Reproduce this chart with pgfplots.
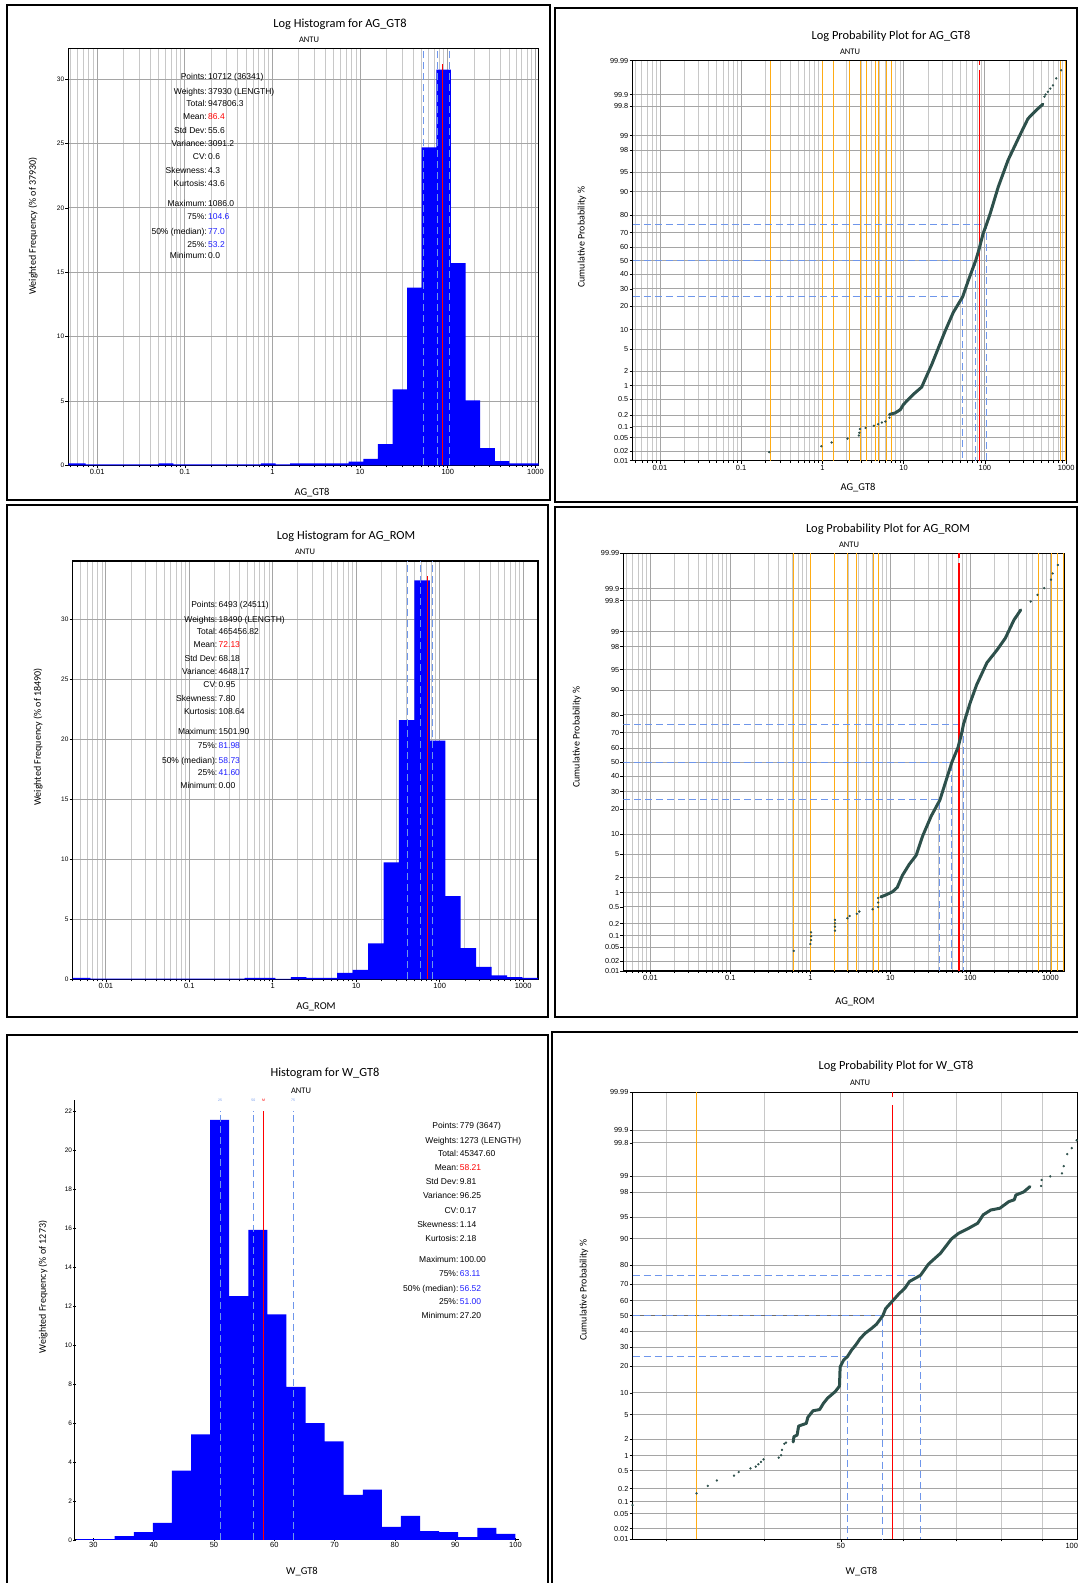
\documentclass[border=0pt]{standalone}
\usepackage{pgfplots}
\pgfplotsset{compat=1.18}
\usepackage{fontspec}
\setmainfont{Liberation Sans}
\newfontfamily\carl{Carlito}

\definecolor{barblue}{RGB}{0,0,255}
\definecolor{qline}{RGB}{110,150,235}
\definecolor{qtext}{RGB}{30,30,255}
\definecolor{meanred}{RGB}{255,0,0}
\definecolor{ptcol}{RGB}{45,80,75}
\definecolor{orng}{RGB}{255,172,20}
\definecolor{gmaj}{RGB}{165,165,165}
\definecolor{gmin}{RGB}{200,200,200}

% picture units are the reference's pixels (y measured from the top)
\newcommand{\stat}{\fontsize{8.5}{10}\selectfont}
\newcommand{\st}[4]{%
  \node[anchor=mid east,font=\stat,inner sep=0pt] at (#1,{1583-#2}) {#3};
  \node[anchor=mid west,font=\stat,inner sep=0pt] at ({#1+1},{1583-#2}) {#4};}
\newcommand{\ttl}[3]{\node[font=\carl\fontsize{12.4}{14}\selectfont] at (#1,{1583-#2}) {#3};}
\newcommand{\antu}[2]{\node[font=\carl\fontsize{8.5}{10}\selectfont] at (#1,{1583-#2}) {ANTU};}
\newcommand{\xl}[3]{\node[font=\carl\fontsize{10.5}{12}\selectfont] at (#1,{1583-#2}) {#3};}
\newcommand{\yl}[3]{\node[font=\carl\fontsize{10}{12}\selectfont,rotate=90] at (#1,{1583-#2}) {#3};}

\newcommand{\logminors}{0.004,0.005,0.006,0.007,0.008,0.009,0.02,0.03,0.04,0.05,0.06,0.07,0.08,0.09,0.2,0.3,0.4,0.5,0.6,0.7,0.8,0.9,2,3,4,5,6,7,8,9,20,30,40,50,60,70,80,90,200,300,400,500,600,700,800,900}

\pgfplotsset{
  mypanel/.style={scale only axis, anchor=south west,
    axis line style={black,line width=1.2pt},
    /pgf/number format/assume math mode=true,
    tick pos=left, tick align=outside,
    major tick length=3pt, minor tick length=2pt,
    tick style={black,line width=0.6pt},
    xticklabel style={font=\fontsize{7.5}{8}\selectfont, inner sep=1pt},
    yticklabel style={font=\fontsize{6.5}{7}\selectfont, inner sep=1pt}},
  mylogx/.style={
    xtick={0.01,0.1,1,10,100,1000},
    xticklabels={0.01,0.1,1,10,100,1000},
    minor xtick/.expand once={\logminors},
    xmajorgrids, xminorgrids,
    major x grid style={gmaj,line width=0.8pt},
    minor x grid style={gmin,line width=0.8pt}},
  myprob/.style={ymin=-3.719, ymax=3.719,
    ytick={-3.719,-3.540,-3.291,-3.090,-2.878,-2.576,-2.326,-2.054,-1.645,-1.282,-0.842,-0.524,-0.253,0,0.253,0.524,0.842,1.282,1.645,2.054,2.326,2.878,3.090,3.719},
    yticklabels={0.01,0.02,0.05,0.1,0.2,0.5,1,2,5,10,20,30,40,50,60,70,80,90,95,98,99,99.8,99.9,99.99},
    ymajorgrids, major y grid style={gmaj,line width=0.8pt},
    yticklabel style={font=\fontsize{7.3}{8}\selectfont}},
  myhist/.style={ymin=0, ymajorgrids, major y grid style={gmaj,line width=0.8pt}},
  qdash/.style={qline,line width=1pt,dash pattern=on 7pt off 4pt},
  meanl/.style={meanred,line width=1.2pt},
  orl/.style={orng,line width=1pt},
  ptdense/.style={draw=ptcol,line width=3pt,line join=round,line cap=round},
  ptsparse/.style={draw=ptcol,fill=ptcol,only marks,mark=*,mark size=0.95pt},
}

\begin{document}
\begin{tikzpicture}[x=1pt,y=1pt]
\useasboundingbox (0,0) rectangle (1078,1583);

% panel frames
\draw[line width=2pt] (7,{1583-5}) rectangle (550,{1583-500});
\draw[line width=2pt] (555,{1583-8}) rectangle (1077,{1583-502});
\draw[line width=2pt] (7,{1583-505}) rectangle (548,{1583-1017});
\draw[line width=2pt] (555,{1583-507}) rectangle (1077,{1583-1017});
\draw[line width=2pt] (7,{1583-1035}) rectangle (548,{1583-1595});
\draw[line width=2pt] (552,{1583-1032}) rectangle (1090,{1583-1595});

% ---------- Log histogram AG_GT8
\begin{axis}[xmode=log, mypanel, mylogx, myhist, at={(68.4pt,1117.7pt)}, width=470.2pt, height=417pt,
  xmin=0.0047, xmax=1086, ymax=32.4, ytick={0,5,...,30}]
\addplot[ybar interval=0.92, fill=barblue, draw=none] coordinates {
 (0.0047,0.15) (0.007399,0.08) (0.01086,0.08) (0.01594,0.08) (0.0234,0.08)
 (0.03434,0.08) (0.05041,0.15) (0.07399,0.08) (0.1086,0.08) (0.1594,0.08)
 (0.234,0.08) (0.3434,0.08) (0.5041,0.08) (0.7399,0.15) (1.086,0.08)
 (1.594,0.15) (2.34,0.15) (3.434,0.15) (5.041,0.15) (7.399,0.28) (10.86,0.49)
 (15.94,1.65) (23.4,5.9) (34.34,13.8) (50.41,24.7) (73.99,30.75) (108.6,15.7)
 (159.5,5.04) (234,1.34) (343.4,0.33) (504.1,0.15) (739.2,0.15) (1086,0)};
\addplot[qdash] coordinates {(53.2,0) (53.2,32.4)};
\addplot[qdash] coordinates {(77.0,0) (77.0,32.4)};
\addplot[qdash] coordinates {(104.6,0) (104.6,32.4)};
\addplot[meanl] coordinates {(86.4,0) (86.4,31.2)};
\end{axis}

% ---------- Log probability AG_GT8
\begin{axis}[xmode=log, mypanel, mylogx, myprob, at={(632.5pt,1122.3pt)}, width=434.3pt, height=400pt,
  xmin=0.0046, xmax=1020]
\addplot[orl] coordinates {(0.233,-3.719) (0.233,3.719)};
\addplot[orl] coordinates {(1.0,-3.719) (1.0,3.719)};
\addplot[orl] coordinates {(1.36,-3.719) (1.36,3.719)};
\addplot[orl] coordinates {(2.16,-3.719) (2.16,3.719)};
\addplot[orl] coordinates {(2.94,-3.719) (2.94,3.719)};
\addplot[orl] coordinates {(3.49,-3.719) (3.49,3.719)};
\addplot[orl] coordinates {(4.5,-3.719) (4.5,3.719)};
\addplot[orl] coordinates {(4.94,-3.719) (4.94,3.719)};
\addplot[orl] coordinates {(6.08,-3.719) (6.08,3.719)};
\addplot[orl] coordinates {(7.0,-3.719) (7.0,3.719)};
\addplot[orl] coordinates {(845,-3.719) (845,3.719)};
\addplot[orl] coordinates {(977,-3.719) (977,3.719)};
\addplot[qdash] coordinates {(0.0046,0.674) (104.6,0.674) (104.6,-3.719)};
\addplot[qdash] coordinates {(0.0046,0) (77,0) (77,-3.719)};
\addplot[qdash] coordinates {(0.0046,-0.674) (53.2,-0.674) (53.2,-3.719)};
\addplot[meanl] coordinates {(86.4,-3.719) (86.4,3.55)};
\addplot[meanl] coordinates {(86.4,3.64) (86.4,3.719)};
\addplot[ptsparse] coordinates {
 (0.222,-3.56) (0.97,-3.45) (1.3,-3.38) (2.04,-3.31) (2.81,-3.25) (2.85,-3.20)
 (2.9,-3.13) (3.4,-3.11) (4.3,-3.07) (4.85,-3.04) (5.4,-3.01) (5.96,-2.99) (6.7,-2.92)
 (541,3.05) (560,3.09) (597,3.14) (640,3.2) (688,3.26) (755,3.39) (869,3.54)};
\addplot[ptdense] coordinates {
 (6.7,-2.86) (7.9,-2.83) (9.1,-2.77) (10,-2.67) (13.3,-2.48) (16.7,-2.35)
 (17.6,-2.27) (22.2,-1.93) (26.8,-1.62) (32.4,-1.31) (40.9,-0.96) (53.2,-0.674)
 (62.5,-0.37) (77,0) (84,0.19) (95,0.50) (104.6,0.674) (116,0.87) (146,1.37)
 (193,1.87) (269,2.33) (339,2.64) (430,2.80) (518,2.91)};
\end{axis}

% ---------- Log histogram AG_ROM
\begin{axis}[xmode=log, mypanel, mylogx, myhist, at={(72.6pt,603.7pt)}, width=465.3pt, height=418.3pt,
  xmin=0.004, xmax=1501.9, ymax=34.86, ytick={0,5,...,30}]
\addplot[ybar interval=0.92, fill=barblue, draw=none] coordinates {
 (0.004,0.11) (0.00651,0.06) (0.00996,0.06) (0.01525,0.06) (0.02334,0.06)
 (0.0357,0.06) (0.0547,0.06) (0.0837,0.06) (0.1282,0.06) (0.1962,0.06)
 (0.3004,0.06) (0.460,0.11) (0.704,0.11) (1.078,0.04) (1.650,0.19) (2.525,0.11)
 (3.87,0.11) (5.92,0.53) (9.06,0.78) (13.87,3.0) (21.24,9.75) (32.5,21.6)
 (49.8,33.25) (76.2,19.9) (116.7,6.94) (178.6,2.6) (273.4,1.03) (418.6,0.33)
 (640.8,0.19) (981.0,0.11) (1501.9,0)};
\addplot[qdash] coordinates {(41.6,0) (41.6,34.86)};
\addplot[qdash] coordinates {(58.73,0) (58.73,34.86)};
\addplot[qdash] coordinates {(81.98,0) (81.98,34.86)};
\addplot[meanl] coordinates {(72.13,0) (72.13,33.6)};
\end{axis}

% ---------- Log probability AG_ROM
\begin{axis}[xmode=log, mypanel, mylogx, myprob, at={(623.4pt,612pt)}, width=441.1pt, height=417.7pt,
  xmin=0.0046, xmax=1501.9]
\addplot[orl] coordinates {(0.62,-3.719) (0.62,3.719)};
\addplot[orl] coordinates {(1.0,-3.719) (1.0,3.719)};
\addplot[orl] coordinates {(2.03,-3.719) (2.03,3.719)};
\addplot[orl] coordinates {(2.94,-3.719) (2.94,3.719)};
\addplot[orl] coordinates {(3.82,-3.719) (3.82,3.719)};
\addplot[orl] coordinates {(6.08,-3.719) (6.08,3.719)};
\addplot[orl] coordinates {(7.04,-3.719) (7.04,3.719)};
\addplot[orl] coordinates {(712,-3.719) (712,3.719)};
\addplot[orl] coordinates {(1020,-3.719) (1020,3.719)};
\addplot[orl] coordinates {(1215,-3.719) (1215,3.719)};
\addplot[orl] coordinates {(1458,-3.719) (1458,3.719)};
\addplot[qdash] coordinates {(0.0046,0.674) (81.98,0.674) (81.98,-3.719)};
\addplot[qdash] coordinates {(0.0046,0) (58.73,0) (58.73,-3.719)};
\addplot[qdash] coordinates {(0.0046,-0.674) (41.6,-0.674) (41.6,-3.719)};
\addplot[meanl] coordinates {(72.13,-3.719) (72.13,3.55)};
\addplot[meanl] coordinates {(72.13,3.64) (72.13,3.719)};
\addplot[ptsparse] coordinates {
 (0.62,-3.36) (1.0,-3.24) (1.02,-3.17) (1.02,-3.10) (1.02,-3.03) (2.03,-3.00)
 (2.03,-2.93) (2.03,-2.87) (2.03,-2.81) (2.9,-2.78) (3.1,-2.74) (3.8,-2.70)
 (4.1,-2.66) (6.0,-2.62) (7.04,-2.58) (7.04,-2.50) (7.04,-2.42)
 (568,2.86) (690,2.98) (838,3.10) (1018,3.25) (1069,3.36) (1240,3.51)};
\addplot[ptdense] coordinates {
 (7.6,-2.40) (8.6,-2.37) (10.6,-2.31) (12.2,-2.23) (14.1,-2.02) (17.2,-1.82)
 (21,-1.66) (25.4,-1.31) (32.4,-0.96) (41.6,-0.674) (58.73,0) (70,0.26) (78,0.52)
 (81.98,0.674) (99,1.05) (120,1.38) (161,1.77) (216,2.00) (274,2.21) (350,2.53)
 (426,2.71)};
\end{axis}

% ---------- Histogram W_GT8
\begin{axis}[mypanel, at={(74.7pt,43pt)}, width=444.4pt, height=440pt,
  axis lines=left, axis line style={-,black,line width=1pt},
  xmin=26.9, xmax=100.6, ymin=0, ymax=22.56, clip=false,
  xtick={30,40,...,100}, ytick={0,2,...,22}]
\addplot[ybar interval=0.94, fill=barblue, draw=none] coordinates {
 (27.2,0.05) (30.37,0.05) (33.53,0.2) (36.70,0.41) (39.86,0.88) (43.03,3.56)
 (46.19,5.42) (49.36,21.54) (52.52,12.5) (55.69,15.9) (58.85,11.57) (62.02,7.85)
 (65.18,5.99) (68.35,5.06) (71.51,2.32) (74.68,2.58) (77.84,0.67) (81.01,1.24)
 (84.17,0.46) (87.34,0.41) (90.50,0.15) (93.67,0.62) (96.83,0.31) (100,0)};
\addplot[qdash] coordinates {(51.0,0) (51.0,22)};
\addplot[qdash] coordinates {(56.52,0) (56.52,22)};
\addplot[qdash] coordinates {(63.11,0) (63.11,22)};
\addplot[meanl] coordinates {(58.21,0) (58.21,22)};
\node[font=\fontsize{3.5}{4}\selectfont,text=qline] at (axis cs:51.0,22.55) {25};
\node[font=\fontsize{3.5}{4}\selectfont,text=qline] at (axis cs:56.52,22.55) {50};
\node[font=\fontsize{3.5}{4}\selectfont,text=meanred] at (axis cs:58.21,22.55) {M};
\node[font=\fontsize{3.5}{4}\selectfont,text=qline] at (axis cs:63.11,22.55) {75};
\end{axis}

% ---------- Log probability W_GT8
\begin{axis}[xmode=log, mypanel, myprob, at={(632.5pt,43.7pt)}, width=445.5pt, height=447pt,
  xmin=27.2, xmax=100, xtick={50,100}, xticklabels={50,{\makebox[0pt][r]{100}}},
  minor xtick={30,40,60,70,80,90}, xmajorgrids, xminorgrids,
  major x grid style={gmaj,line width=0.8pt}, minor x grid style={gmin,line width=0.8pt}]
\addplot[gray!85!black,line width=1.2pt] coordinates {(27.2,0) (100,0)};
\addplot[orl] coordinates {(32.8,-3.719) (32.8,3.719)};
\addplot[qdash] coordinates {(27.2,0.674) (63.11,0.674) (63.11,-3.719)};
\addplot[qdash] coordinates {(27.2,0) (56.52,0) (56.52,-3.719)};
\addplot[qdash] coordinates {(27.2,-0.674) (51.0,-0.674) (51.0,-3.719)};
\addplot[meanl] coordinates {(58.21,-3.719) (58.21,3.50)};
\addplot[meanl] coordinates {(58.21,3.64) (58.21,3.719)};
\addplot[ptsparse] coordinates {
 (27.2,-3.15) (32.8,-2.955) (33.9,-2.83) (34.8,-2.74) (36.6,-2.66) (37.1,-2.60)
 (38.4,-2.54) (39.0,-2.51) (39.3,-2.47) (39.6,-2.43) (39.9,-2.39) (41.7,-2.36)
 (42.0,-2.32) (42.1,-2.23) (42.4,-2.13) (42.6,-2.11)
 (89.8,2.16) (89.9,2.26) (92.2,2.32) (95.4,2.37) (95.9,2.49) (96.9,2.69)
 (98.2,2.79) (99.6,2.92)};
\addplot[ptdense] coordinates {
 (43.5,-2.10) (43.6,-2.01) (44.0,-1.985) (44.2,-1.835) (45.2,-1.79) (45.4,-1.69)
 (46.1,-1.58) (47.0,-1.56) (47.5,-1.46) (48.1,-1.37) (49.2,-1.26) (49.8,-1.17)
 (49.9,-0.85) (50.4,-0.74) (51.0,-0.674) (51.6,-0.57) (52.2,-0.49) (52.9,-0.38)
 (53.7,-0.29) (54.7,-0.21) (55.5,-0.14) (56.52,0) (57.0,0.12) (58.1,0.24)
 (59.2,0.36) (60.3,0.46) (61.1,0.57) (63.11,0.674) (64.6,0.86) (66.9,1.04)
 (69.1,1.28) (70.5,1.37) (72.5,1.45) (74.6,1.54) (75.8,1.68) (77.5,1.76)
 (79.6,1.79) (81.7,1.90) (83.0,1.93) (83.4,2.01) (85.3,2.06) (86.9,2.15)};
\end{axis}

% ---------- titles and labels
\ttl{340}{24}{Log Histogram for AG\_GT8}
\antu{309}{40}
\xl{312}{493}{AG\_GT8}
\yl{33}{226}{Weighted Frequency (\% of 37930)}

\ttl{891}{36.7}{Log Probability Plot for AG\_GT8}
\antu{850}{51.7}
\xl{858}{488}{AG\_GT8}
\yl{582}{237}{Cumulative Probability \%}

\ttl{346}{536.7}{Log Histogram for AG\_ROM}
\antu{305}{551.7}
\xl{316}{1007}{AG\_ROM}
\yl{38}{737}{Weighted Frequency (\% of 18490)}

\ttl{888}{529}{Log Probability Plot for AG\_ROM}
\antu{849}{545}
\xl{855}{1001.7}{AG\_ROM}
\yl{577}{737}{Cumulative Probability \%}

\ttl{325}{1073.3}{Histogram for W\_GT8}
\antu{301}{1091}
\xl{302}{1572}{W\_GT8}
\yl{43}{1287}{Weighted Frequency (\% of 1273)}

\ttl{896}{1066}{Log Probability Plot for W\_GT8}
\antu{860}{1082.7}
\xl{861.5}{1571.5}{W\_GT8}
\yl{584}{1290}{Cumulative Probability \%}

% ---------- statistics blocks
\st{207}{77.3}{Points:}{10712 (36341)}
\st{207}{91.7}{Weights:}{37930 (LENGTH)}
\st{207}{104}{Total:}{947806.3}
\st{207}{117.3}{Mean:}{\textcolor{meanred}{86.4}}
\st{207}{130.7}{Std Dev:}{55.6}
\st{207}{144.3}{Variance:}{3091.2}
\st{207}{157.3}{CV:}{0.6}
\st{207}{171}{Skewness:}{4.3}
\st{207}{184}{Kurtosis:}{43.6}
\st{207}{204}{Maximum:}{1086.0}
\st{207}{217.3}{75\%:}{\textcolor{qtext}{104.6}}
\st{207}{231.7}{50\% (median):}{\textcolor{qtext}{77.0}}
\st{207}{245}{25\%:}{\textcolor{qtext}{53.2}}
\st{207}{256}{Minimum:}{0.0}

\st{217.5}{605.3}{Points:}{6493 (24511)}
\st{217.5}{620}{Weights:}{18490 (LENGTH)}
\st{217.5}{632.3}{Total:}{465456.82}
\st{217.5}{645.3}{Mean:}{\textcolor{meanred}{72.13}}
\st{217.5}{659}{Std Dev:}{68.18}
\st{217.5}{672.3}{Variance:}{4648.17}
\st{217.5}{685}{CV:}{0.95}
\st{217.5}{699.3}{Skewness:}{7.80}
\st{217.5}{712}{Kurtosis:}{108.64}
\st{217.5}{732.3}{Maximum:}{1501.90}
\st{217.5}{746}{75\%:}{\textcolor{qtext}{81.98}}
\st{217.5}{761}{50\% (median):}{\textcolor{qtext}{58.73}}
\st{217.5}{773.3}{25\%:}{\textcolor{qtext}{41.60}}
\st{217.5}{786}{Minimum:}{0.00}

\st{458.6}{1126}{Points:}{779 (3647)}
\st{458.6}{1140.7}{Weights:}{1273 (LENGTH)}
\st{458.6}{1154}{Total:}{45347.60}
\st{458.6}{1168}{Mean:}{\textcolor{meanred}{58.21}}
\st{458.6}{1182}{Std Dev:}{9.81}
\st{458.6}{1196}{Variance:}{96.25}
\st{458.6}{1211}{CV:}{0.17}
\st{458.6}{1225}{Skewness:}{1.14}
\st{458.6}{1239}{Kurtosis:}{2.18}
\st{458.6}{1260}{Maximum:}{100.00}
\st{458.6}{1274}{75\%:}{\textcolor{qtext}{63.11}}
\st{458.6}{1289}{50\% (median):}{\textcolor{qtext}{56.52}}
\st{458.6}{1302}{25\%:}{\textcolor{qtext}{51.00}}
\st{458.6}{1316}{Minimum:}{27.20}
\end{tikzpicture}
\end{document}
